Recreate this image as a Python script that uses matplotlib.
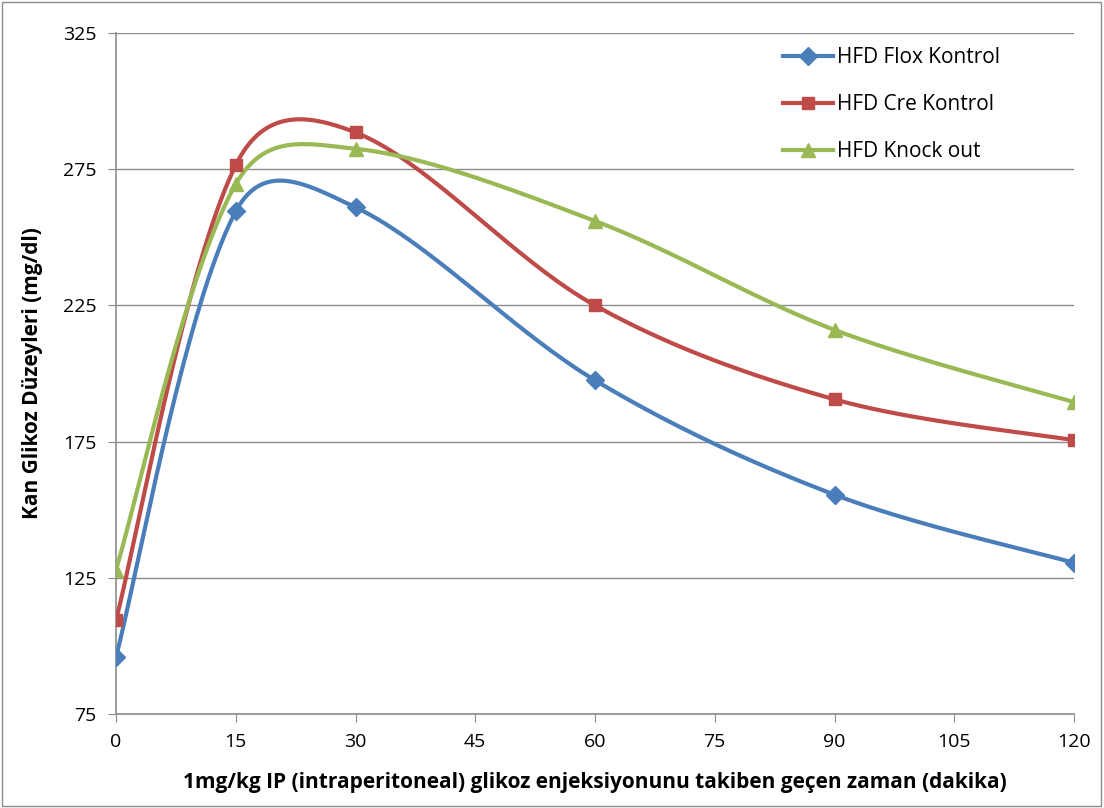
import matplotlib.pyplot as plt
import numpy as np

plt.rcParams['font.family'] = ['Open Sans', 'DejaVu Sans']

minutes = [0, 15, 30, 60, 90, 120]
flox = [96, 259.5, 261, 197.5, 155.5, 130.5]
cre = [109.5, 276.5, 288.5, 225, 190.5, 175.5]
knockout = [128, 269.5, 282.5, 256, 216, 189.5]

series = [
    ("HFD Flox Kontrol", flox, "#4A7EBB", "D"),
    ("HFD Cre Kontrol", cre, "#BE4B48", "s"),
    ("HFD Knock out", knockout, "#98B954", "^"),
]

xlim = (0, 120)
ylim = (75, 325)
xticks = np.arange(0, 121, 15)
yticks = np.arange(75, 326, 50)


def smooth(xs, ys, sx, sy, n=40):
    # bezier smoothing of the polyline, done in screen-like units;
    # tangents are a mix of plain catmull-rom and length-weighted ones
    p = np.column_stack([np.asarray(xs, float) * sx, np.asarray(ys, float) * sy])
    d = np.r_[0, np.hypot(*np.diff(p, axis=0).T)]
    pts = []
    for i in range(len(p) - 1):
        p0 = p[i - 1] if i > 0 else p[i]
        p3 = p[i + 2] if i + 2 < len(p) else p[i + 1]
        d0 = d[i] if i > 0 else d[i + 1]
        d1 = d[i + 1]
        d2 = d[i + 2] if i + 2 < len(p) else d[i + 1]
        w1 = 0.5 * (1 / 6 + d1 / (d0 + d1) / 3)
        w2 = 0.5 * (1 / 6 + d1 / (d1 + d2) / 3)
        c1 = p[i] + (p[i + 1] - p0) * w1
        c2 = p[i + 1] - (p3 - p[i]) * w2
        t = np.linspace(0, 1, n)[:, None]
        seg = ((1 - t) ** 3 * p[i] + 3 * (1 - t) ** 2 * t * c1
               + 3 * (1 - t) * t ** 2 * c2 + t ** 3 * p[i + 1])
        pts.append(seg if i == 0 else seg[1:])
    pts = np.vstack(pts)
    return pts[:, 0] / sx, pts[:, 1] / sy


fig = plt.figure(figsize=(11.04, 8.08), dpi=100)
fig.patches.append(plt.Rectangle((0.002, 0.002), 0.995, 0.995, transform=fig.transFigure,
                                 fill=False, edgecolor="#8c8c8c", linewidth=1))
ax = fig.add_axes([116 / 1104, 1 - 714 / 808, 958 / 1104, 681 / 808])

sx = 958 / (xlim[1] - xlim[0])
sy = 681 / (ylim[1] - ylim[0])
for name, vals, color, mk in series:
    xs, ys = smooth(minutes, vals, sx, sy)
    ax.plot(xs, ys, color=color, linewidth=3, solid_capstyle="round", zorder=3)
    ms = 9 if mk == "D" else (10 if mk == "^" else 8.5)
    ax.plot(minutes, vals, linestyle="none", marker=mk, color=color, markersize=ms, zorder=4)
    ax.plot([], [], color=color, linewidth=3, marker=mk, markersize=ms, label=name)

ax.set_xlim(*xlim)
ax.set_ylim(*ylim)
ax.set_xticks(xticks)
ax.set_yticks(yticks)
ax.yaxis.grid(True, color="#8c8c8c", linewidth=1)
ax.set_axisbelow(True)
for s in ["top", "right"]:
    ax.spines[s].set_visible(False)
for s in ["left", "bottom"]:
    ax.spines[s].set_color("#8c8c8c")
    ax.spines[s].set_linewidth(1.2)
ax.tick_params(direction="out", length=6, color="#8c8c8c", labelsize=14, pad=8)

ax.set_xlabel("1mg/kg IP (intraperitoneal) glikoz enjeksiyonunu takiben geçen zaman (dakika)",
              fontsize=15, fontweight="bold", labelpad=15)
ax.set_ylabel("Kan Glikoz Düzeyleri (mg/dl)", fontsize=15, fontweight="bold", labelpad=14)

ax.legend(loc="upper left", bbox_to_anchor=(783 / 1104, 1 - 47 / 808),
          bbox_transform=fig.transFigure, frameon=False, fontsize=15,
          handlelength=2.4, labelspacing=1.25, borderaxespad=0, borderpad=0,
          handletextpad=0.2)

fig.savefig("out.png", dpi=100)
